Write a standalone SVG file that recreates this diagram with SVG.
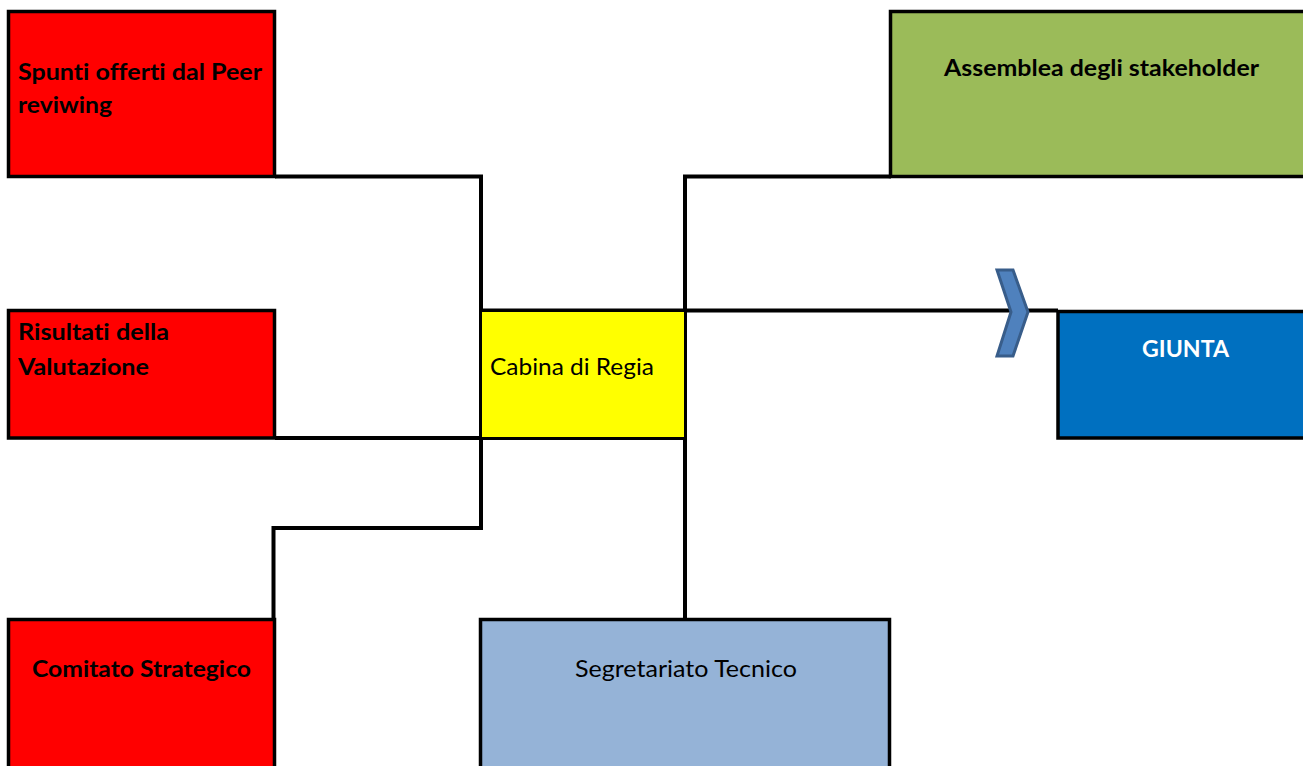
<svg xmlns="http://www.w3.org/2000/svg" width="1303" height="766" viewBox="0 0 1303 766">
<style>
.box{stroke:#000;stroke-width:3.5}
.red{fill:#FF0000}
.t{font-family:Lato,"Liberation Sans",sans-serif;font-size:23.5px;fill:#000;font-variant-ligatures:none;font-feature-settings:"liga" 0}
.b{font-weight:bold}
.conn{fill:none;stroke:#000;stroke-width:4}
</style>
<rect width="1303" height="766" fill="#fff"/>
<g id="connectors">
<polyline class="conn" points="275,176.5 481,176.5 481,528 273.5,528 273.5,618"/>
<line class="conn" x1="275" y1="438" x2="686" y2="438"/>
<polyline class="conn" points="891,176.5 685,176.5 685,618"/>
<line class="conn" x1="481" y1="310.5" x2="1058" y2="310.5"/>
</g>
<g id="n-spunti">
<rect class="box red" x="8.5" y="11.5" width="266" height="165"/>
<text class="t b" x="18" y="80" textLength="244" lengthAdjust="spacingAndGlyphs">Spunti offerti dal Peer</text>
<text class="t b" x="18" y="113" textLength="94" lengthAdjust="spacingAndGlyphs">reviwing</text>
</g>
<g id="n-risultati">
<rect class="box red" x="8.5" y="310.5" width="266" height="127.5"/>
<text class="t b" x="18" y="340" textLength="151" lengthAdjust="spacingAndGlyphs">Risultati della</text>
<text class="t b" x="18" y="375" textLength="131" lengthAdjust="spacingAndGlyphs">Valutazione</text>
</g>
<g id="n-comitato">
<rect class="box red" x="8.5" y="619.5" width="266" height="160"/>
<text class="t b" x="32" y="677" textLength="219" lengthAdjust="spacingAndGlyphs">Comitato Strategico</text>
</g>
<g id="n-cabina">
<rect x="482" y="312" width="202" height="125" fill="#FFFF00"/>
<text class="t" x="490" y="375" textLength="164" lengthAdjust="spacingAndGlyphs">Cabina di Regia</text>
</g>
<g id="n-segretariato">
<rect class="box" x="480.5" y="619.5" width="409" height="160" fill="#95B3D7"/>
<text class="t" x="575" y="677" textLength="222" lengthAdjust="spacingAndGlyphs">Segretariato Tecnico</text>
</g>
<g id="n-assemblea">
<rect class="box" x="890.5" y="11.5" width="430" height="165" fill="#9BBB59"/>
<text class="t b" x="944" y="76" textLength="315" lengthAdjust="spacingAndGlyphs">Assemblea degli stakeholder</text>
</g>
<g id="n-giunta">
<rect class="box" x="1058" y="311.5" width="260" height="126.5" fill="#0070C0"/>
<text class="t b" x="1142" y="357" textLength="87" lengthAdjust="spacingAndGlyphs" style="fill:#fff">GIUNTA</text>
</g>
<g id="chevron">
<polygon points="997,270 1013,270 1028,312 1013,356 997,356 1011,312" fill="#4F81BD" stroke="#385D8A" stroke-width="3" stroke-linejoin="miter"/>
</g>
</svg>
